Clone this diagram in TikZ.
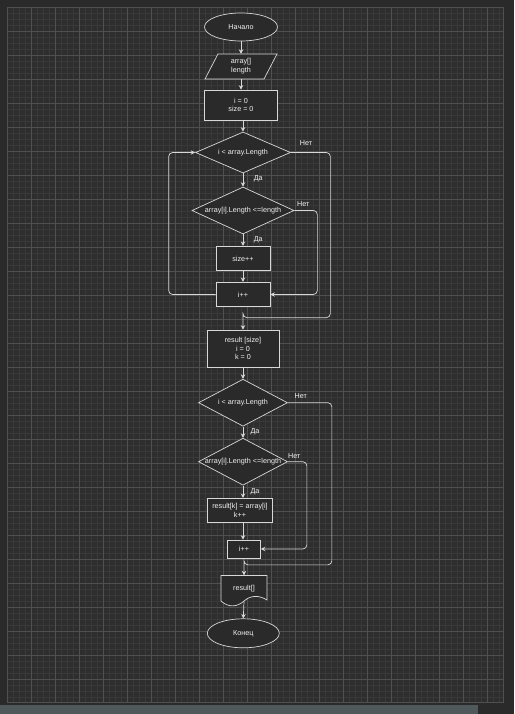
\documentclass[tikz,border=0pt]{standalone}
\usepackage{fontspec}
\setmainfont{Liberation Sans}
\usetikzlibrary{shapes.geometric,arrows.meta,calc}
\definecolor{outerbg}{HTML}{2A2A2A}
\definecolor{gridbg}{HTML}{2E2E2E}
\definecolor{minorc}{HTML}{393939}
\definecolor{majorc}{HTML}{505050}
\definecolor{linec}{HTML}{D8D8D8}
\definecolor{nodefill}{HTML}{2A2A2A}
\definecolor{scrollc}{HTML}{4F595B}
\definecolor{txtc}{HTML}{F2F2F2}
\begin{document}
\begin{tikzpicture}[x=1pt,y=-1pt,
  every node/.style={font=\fontsize{7.2}{8.8}\selectfont, text=txtc, inner sep=0pt},
  proc/.style={rectangle, draw=linec, fill=nodefill, line width=0.7pt, align=center},
  term/.style={ellipse, draw=linec, fill=nodefill, line width=0.7pt},
  dec/.style={diamond, draw=linec, fill=nodefill, line width=0.7pt},
  shapeline/.style={draw=linec, fill=nodefill, line width=0.7pt},
  flow/.style={draw=linec, line width=0.7pt, -{Stealth[length=4.5pt,width=4.5pt]}, rounded corners=4pt},
  lbl/.style={text=txtc}]
% background and grid
\useasboundingbox (0,0) rectangle (514,714);
\fill[outerbg] (0,0) rectangle (514,714);
\fill[gridbg] (7,7) rectangle (503,702);
\foreach \x in {7,13,...,503} \draw[minorc,line width=0.4pt] (\x,7) -- (\x,702);
\foreach \y in {7,13,...,702} \draw[minorc,line width=0.4pt] (7,\y) -- (503,\y);
\foreach \x in {7,31,...,503} \draw[majorc,line width=0.6pt] (\x,7) -- (\x,702);
\foreach \y in {7,31,...,702} \draw[majorc,line width=0.6pt] (7,\y) -- (503,\y);
\draw[majorc,line width=0.6pt] (7,7) rectangle (503,702);
\fill[scrollc] (0,705) rectangle (478,714);

% nodes
\node[term, minimum width=73pt, minimum height=28pt] (start) at (241,27) {Начало};
\path[shapeline] (218,54) -- (277,54) -- (264,79) -- (205,79) -- cycle;
\node[minimum width=50pt, minimum height=25pt, align=center] (io) at (241,66.5) {array[]\\length};
\node[proc, minimum width=73pt, minimum height=30pt] (init) at (241,105) {i = 0\\size = 0};
\node[dec, minimum width=95pt, minimum height=41pt] (d1) at (243,152.5) {\makebox[0pt]{i < array.Length}};
\node[dec, minimum width=102pt, minimum height=47pt] (d2) at (243,210.5) {\makebox[0pt]{array[i].Length <=length}};
\node[proc, minimum width=54pt, minimum height=24.5pt] (size) at (243,258.5) {size++};
\node[proc, minimum width=54pt, minimum height=24.5pt] (inc1) at (243,294.5) {i++};
\node[proc, minimum width=72pt, minimum height=37pt] (res) at (243,348.5) {result [size]\\i = 0\\k = 0};
\node[dec, minimum width=89pt, minimum height=47pt] (d3) at (243,402.7) {\makebox[0pt]{i < array.Length}};
\node[dec, minimum width=89pt, minimum height=47pt] (d4) at (243,461.7) {\makebox[0pt]{array[i].Length <=length}};
\node[proc, minimum width=65.5pt, minimum height=24pt] (rk) at (240,510.3) {result[k] = array[i]\\k++};
\node[proc, minimum width=33pt, minimum height=18pt] (inc2) at (244,549) {i++};
\path[shapeline] (221,575.5) -- (267,575.5) -- (267,600) .. controls (259,595) and (251,595) .. (244,601) .. controls (237,607) and (229,608) .. (221,601) -- cycle;
\node[minimum width=46pt, minimum height=25.5pt] (doc) at (244,588.3) {result[]};
\node[term, minimum width=72pt, minimum height=29pt] (end) at (243.3,633.3) {Конец};

% connectors
\draw[flow] (start) -- (io);
\draw[flow] (io) -- (init);
\draw[flow] (d1.north |- init.south) -- (d1.north);
\draw[flow] (d1.south) -- (d2.north);
\draw[flow] (d2.south) -- (size.north);
\draw[flow] (size.south) -- (inc1.north);
\draw[flow] (d2.east) -- ++(23,0) |- (inc1.east);
\draw[flow] (inc1.west) -- ++(-47,0) |- (d1.west);
\draw[flow] (d1.east) -- ++(39.5,0) |- ($(res.north)+(0,-12)$) -| (res.north);
\draw[flow] (res.south) -- (d3.north);
\draw[flow] (d3.south) -- (d4.north);
\draw[flow] (d4.south) -- (d4.south |- rk.north);
\draw[flow] (d4.south |- rk.south) -- (d4.south |- inc2.north);
\draw[flow] (d4.east) -- ++(19,0) |- (inc2.east);
\draw[flow] (d3.east) -- ++(44,0) |- ($(doc.north)+(0,-10.5)$) -| (doc.north);
\draw[flow] (doc.south) -- (end.north);

% labels
\node[lbl] (n1) at (306,143.3) {Нет};
\node[lbl] (y1) at (258.3,179) {Да};
\node[lbl] (n2) at (303.3,204) {Нет};
\node[lbl] (y2) at (258.3,240) {Да};
\node[lbl] (n3) at (300.7,396) {Нет};
\node[lbl] (y3) at (255,431.7) {Да};
\node[lbl] (n4) at (294.3,455.7) {Нет};
\node[lbl] (y4) at (255,491.7) {Да};
\end{tikzpicture}
\end{document}
